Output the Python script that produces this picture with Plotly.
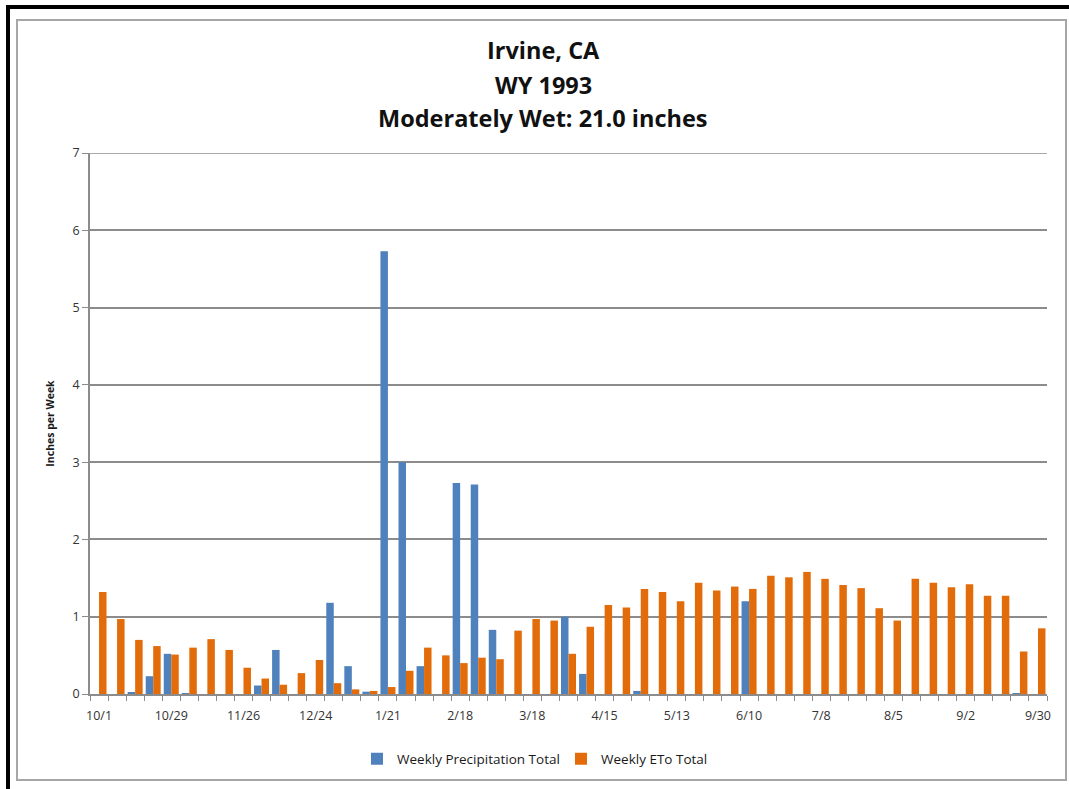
import plotly.graph_objects as go

weeks = list(range(53))
tick_pos = [0, 4, 8, 12, 16, 20, 24, 28, 32, 36, 40, 44, 48, 52]
tick_labels = ["10/1", "10/29", "11/26", "12/24", "1/21", "2/18", "3/18",
               "4/15", "5/13", "6/10", "7/8", "8/5", "9/2", "9/30"]

precip = [0, 0, 0.02, 0.23, 0.52, 0.01, 0, 0, 0, 0.11, 0.57, 0, 0, 1.18, 0.36, 0.03,
          5.73, 3.00, 0.36, 0, 2.73, 2.71, 0.83, 0, 0, 0, 1.00, 0.26, 0, 0,
          0.04, 0, 0, 0, 0, 0, 1.20, 0, 0, 0, 0, 0, 0, 0, 0, 0, 0, 0, 0, 0,
          0, 0.01, 0]
eto = [1.32, 0.97, 0.70, 0.62, 0.51, 0.60, 0.71, 0.57, 0.34, 0.20, 0.12, 0.27, 0.44,
       0.14, 0.06, 0.04, 0.09, 0.30, 0.60, 0.50, 0.40, 0.47, 0.45, 0.82, 0.97, 0.95,
       0.52, 0.87, 1.15, 1.12, 1.36, 1.32, 1.20, 1.44, 1.34, 1.39, 1.36, 1.53, 1.51,
       1.58, 1.49, 1.41, 1.37, 1.11, 0.95, 1.49, 1.44, 1.38, 1.42, 1.27, 1.27, 0.55, 0.85]

title_lines = ["Irvine, CA", "WY 1993", "Moderately Wet: 21.0 inches"]

W, H = 1069, 789
L, R, T, B = 90, 1047, 153, 694  # plot area pixels

def px(x):
    return (x - L) / (R - L)

def py(y):
    return (B - y) / (B - T)

FONT = "Open Sans"
GRID = "#8c8c8c"
fig = go.Figure()
fig.add_trace(go.Bar(x=weeks, y=precip, name="Weekly Precipitation Total",
                     marker=dict(color="#4F81BD", line=dict(width=0))))
fig.add_trace(go.Bar(x=weeks, y=eto, name="Weekly ETo Total",
                     marker=dict(color="#E36C0A", line=dict(width=0))))

fig.update_layout(
    width=W, height=H,
    margin=dict(l=L, r=W - R, t=T, b=H - B),
    paper_bgcolor="white", plot_bgcolor="white",
    barmode="group", bargap=0.17, bargroupgap=0,
    font=dict(family=FONT, color="#333333"),
    showlegend=True,
    legend=dict(orientation="h", x=px(357), xanchor="left", y=py(759), yanchor="middle",
                font=dict(family=FONT, size=13.5, color="#1a1a1a"),
                entrywidth=159, entrywidthmode="pixels", traceorder="normal",
                bgcolor="rgba(0,0,0,0)"),
    xaxis=dict(range=[-0.5, 52.5], tickmode="array", tickvals=tick_pos, ticktext=tick_labels,
               ticks="", showgrid=False, showline=True, linecolor=GRID, linewidth=1.5,
               tickfont=dict(family=FONT, size=12.5, color="#333333"), ticklabelstandoff=9,
               minor=dict(tickmode="linear", tick0=-0.5, dtick=1, ticks="outside",
                          ticklen=5, tickcolor=GRID, tickwidth=1, showgrid=False),
               zeroline=False),
    yaxis=dict(range=[0, 7], dtick=1, showgrid=True, gridcolor=GRID, gridwidth=1.5,
               showline=True, linecolor=GRID, linewidth=1.5, ticks="outside",
               ticklen=6, tickcolor=GRID, zeroline=False,
               tickfont=dict(family=FONT, size=12.5, color="#333333"),
               title=dict(text="<b>Inches per Week</b>", standoff=16,
                          font=dict(family=FONT, size=10.5, color="#1a1a1a"))),
)

# title lines
for line, yc in zip(title_lines, [50, 85, 118]):
    fig.add_annotation(text="<b>" + line + "</b>", xref="paper", yref="paper",
                       x=px(543), y=py(yc), xanchor="center", yanchor="middle",
                       showarrow=False, font=dict(family=FONT, size=23.5, color="#111111"))

# top gridline at the range edge
fig.add_shape(type="line", xref="paper", yref="y", x0=0, x1=1, y0=7, y1=7,
              line=dict(color=GRID, width=1.5), layer="below")

# chart frame (light gray border)
fig.add_shape(type="rect", xref="paper", yref="paper",
              x0=px(17), x1=px(1066), y0=py(780), y1=py(20),
              line=dict(color="#a6a6a6", width=2), fillcolor="rgba(0,0,0,0)", layer="below")
# black outer border lines (top and left)
fig.add_shape(type="rect", xref="paper", yref="paper",
              x0=px(6), x1=px(1069), y0=py(9), y1=py(5),
              line=dict(width=0), fillcolor="black")
fig.add_shape(type="rect", xref="paper", yref="paper",
              x0=px(6), x1=px(10), y0=py(789), y1=py(5),
              line=dict(width=0), fillcolor="black")

fig.write_html("out.html")
